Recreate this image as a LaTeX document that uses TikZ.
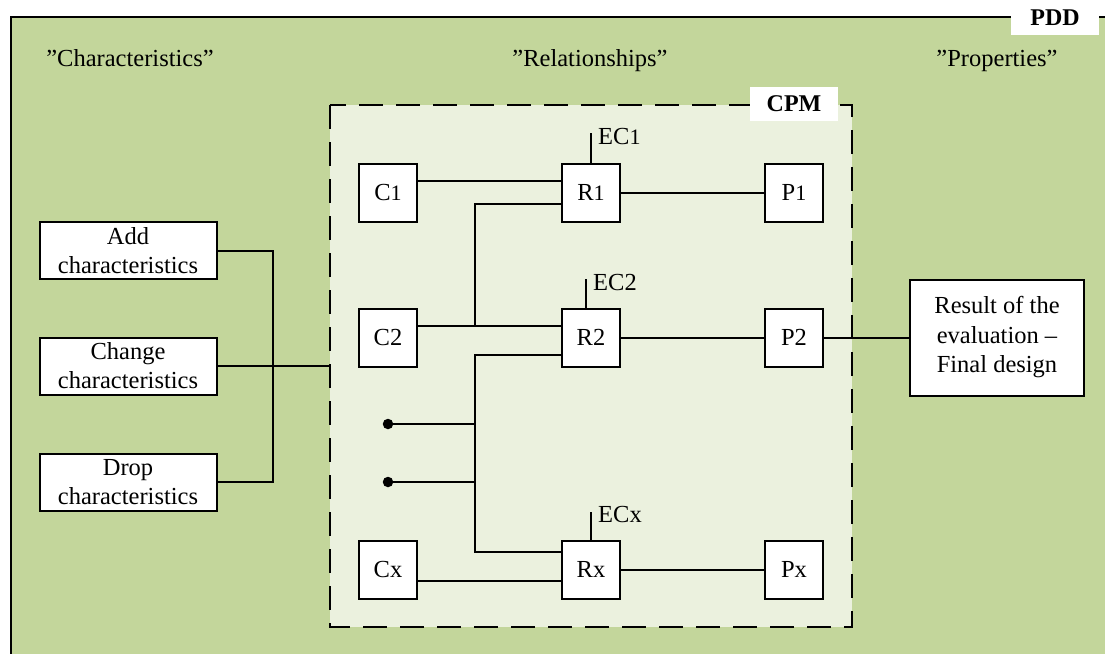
\documentclass[tikz,border=0pt]{standalone}
\usepackage{fontspec}
\setmainfont{Liberation Serif}
\usetikzlibrary{calc}
\definecolor{pddgreen}{RGB}{195,214,155}
\definecolor{cpmgreen}{RGB}{235,241,222}
\newcommand{\dg}[1]{{\fontsize{22}{22}\selectfont #1}}
\begin{document}
\begin{tikzpicture}[x=1pt,y=-1pt,
  every node/.style={font=\fontsize{24.5}{29}\selectfont},
  wire/.style={line width=2pt},
  sq/.style={draw, fill=white, line width=2pt, minimum width=58pt, minimum height=58pt, inner sep=0pt},
  actbox/.style={draw, fill=white, line width=2pt, minimum width=177pt, minimum height=57pt, inner sep=0pt, align=center},
  tag/.style={fill=white, inner sep=0pt, minimum width=88pt, minimum height=34pt, font=\fontsize{24}{28}\selectfont\bfseries},
  head/.style={anchor=base},
  dot/.style={circle, fill=black, inner sep=0pt, minimum size=10.5pt}]
\clip (0,0) rectangle (1105,653);
\fill[white] (0,0) rectangle (1105,653);

% product development domain
\draw[fill=pddgreen, line width=2pt] (11,17) rectangle (1130,680);
\node[tag] (pdd) at (1055,18) {PDD};

\node[head] (hc) at (130,66) {”Characteristics”};
\node[head] (hr) at (590,66) {”Relationships”};
\node[head] (hp) at (997,66) {”Properties”};

% characteristics-properties model
\draw[fill=cpmgreen, line width=2pt, dash pattern=on 24pt off 13pt] (330,105) rectangle (852,627);
\node[tag] (cpm) at (794,104) {CPM};
\coordinate (cpmin) at (330,365);

% left-hand actions
\node[actbox] (add) at (128,250.5) {Add\\characteristics};
\node[actbox] (chg) at (128,366) {Change\\characteristics};
\node[actbox] (drp) at (128,482) {Drop\\characteristics};

\draw[wire] (add.east) -| ($(drp.east)+(55,0)$) -- (drp.east);
\draw[wire] (chg.east) -- (chg.east -| cpmin);

% characteristics, relations, properties
\node[sq] (c1) at (388,192.5) {C\dg{1}};
\node[sq] (r1) at (591,192.5) {R\dg{1}};
\node[sq] (p1) at (794,192.5) {P\dg{1}};
\node[sq] (c2) at (388,337.5) {C2};
\node[sq] (r2) at (591,337.5) {R2};
\node[sq] (p2) at (794,337.5) {P2};
\node[sq] (cx) at (388,569.5) {Cx};
\node[sq] (rx) at (591,569.5) {Rx};
\node[sq] (px) at (794,569.5) {Px};

\node[dot] (d1) at (388,424) {};
\node[dot] (d2) at (388,482) {};

\node[draw, fill=white, line width=2pt, minimum width=174pt, minimum height=116pt, inner sep=0pt, align=center,
  font=\fontsize{24.5}{29.5}\selectfont] (res) at (997,337.5) {\raisebox{0pt}[\height][\depth]{}Result of the\\evaluation –\\Final design};

% attachment points on the sides of the boxes
\coordinate (c1o) at ($(c1.east)+(0,-11.5)$);
\coordinate (r1a) at ($(r1.west)+(0,-11.5)$);
\coordinate (r1b) at ($(r1.west)+(0,11.5)$);
\coordinate (c2o) at ($(c2.east)+(0,-12)$);
\coordinate (r2a) at ($(r2.west)+(0,-12)$);
\coordinate (r2b) at ($(r2.west)+(0,17.5)$);
\coordinate (rxa) at ($(rx.west)+(0,-17.5)$);
\coordinate (rxb) at ($(rx.west)+(0,11.5)$);
\coordinate (cxo) at ($(cx.east)+(0,11.5)$);
% vertical bus between the relations
\coordinate (bus) at (475,0);

\draw[wire] (c1o) -- (r1a);
\draw[wire] (r1b) -| (bus |- c2o);
\draw[wire] (c2o) -- (r2a);
\draw[wire] (r2b) -| (bus |- rxa) -- (rxa);
\draw[wire] (d1.center) -- (d1 -| bus);
\draw[wire] (d2.center) -- (d2 -| bus);
\draw[wire] (cxo) -- (rxb);

\draw[wire] (r1.east) -- (p1.west);
\draw[wire] (r2.east) -- (p2.west);
\draw[wire] (rx.east) -- (px.west);
\draw[wire] (p2.east) -- (res.west);

% external conditions
\draw[wire] (r1.north) -- ++(0,-30) coordinate (e1);
\node[anchor=west, inner sep=0pt] (ec1) at ($(e1)+(7,4)$) {EC\dg{1}};
\draw[wire] ($(r2.north)+(-5,0)$) -- ++(0,-29) coordinate (e2);
\node[anchor=west, inner sep=0pt] (ec2) at ($(e2)+(7,4)$) {EC2};
\draw[wire] (rx.north) -- ++(0,-28) coordinate (ex);
\node[anchor=west, inner sep=0pt] (ecx) at ($(ex)+(7,3)$) {ECx};
\end{tikzpicture}
\end{document}
